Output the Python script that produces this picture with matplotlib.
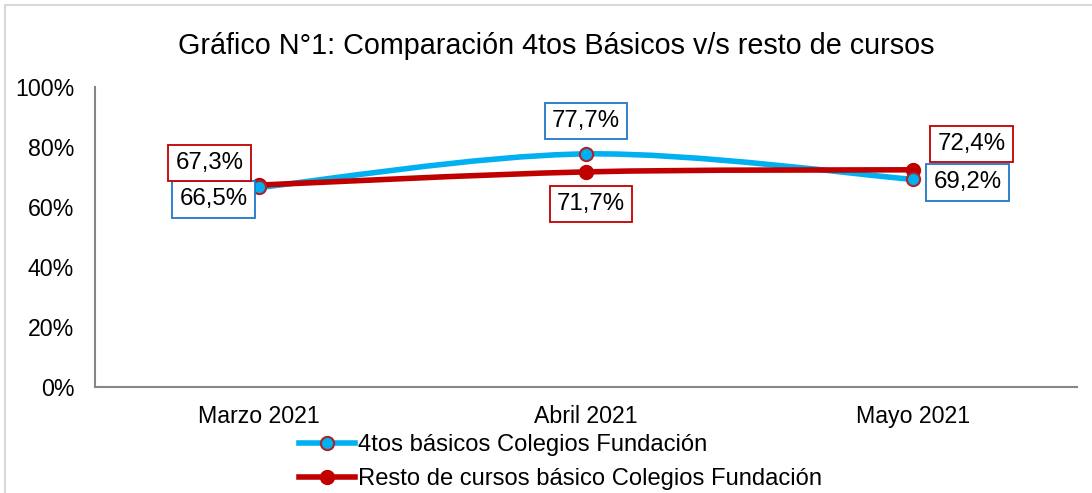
import matplotlib
matplotlib.use("Agg")
import matplotlib.pyplot as plt
from matplotlib.path import Path
from matplotlib.patches import PathPatch, Rectangle
from matplotlib.lines import Line2D
import numpy as np

plt.rcParams['font.family'] = ['Liberation Sans', 'DejaVu Sans']

categories = ["Marzo 2021", "Abril 2021", "Mayo 2021"]
cuartos = [0.665, 0.777, 0.692]
resto = [0.673, 0.717, 0.724]
labels_cuartos = ["66,5%", "77,7%", "69,2%"]
labels_resto = ["67,3%", "71,7%", "72,4%"]
yticks = [0, 0.2, 0.4, 0.6, 0.8, 1.0]
ytick_labels = ["0%", "20%", "40%", "60%", "80%", "100%"]
title = "Gráfico N°1: Comparación 4tos Básicos v/s resto de cursos"
series_names = ["4tos básicos Colegios Fundación", "Resto de cursos básico Colegios Fundación"]

BLUE = "#00B0F0"
RED = "#C00000"
EDGE = "#A8262B"
GRAY = "#868686"

W, H = 1092, 493
fig = plt.figure(figsize=(W / 100, H / 100), dpi=100)
ax = fig.add_axes([95 / W, 1 - 387 / H, (1077 - 95) / W, (387 - 87) / H])

x = np.arange(len(categories)) + 0.5


def smooth_path(xs, ys):
    pts = list(zip(xs, ys))
    verts = [pts[0]]
    codes = [Path.MOVETO]
    n = len(pts)
    for i in range(n - 1):
        p0 = pts[i - 1] if i > 0 else pts[i]
        p1 = pts[i]
        p2 = pts[i + 1]
        p3 = pts[i + 2] if i + 2 < n else pts[i + 1]
        c1 = (p1[0] + (p2[0] - p0[0]) / 6, p1[1] + (p2[1] - p0[1]) / 6)
        c2 = (p2[0] - (p3[0] - p1[0]) / 6, p2[1] - (p3[1] - p1[1]) / 6)
        verts += [c1, c2, p2]
        codes += [Path.CURVE4] * 3
    return Path(verts, codes)


for vals, col in [(cuartos, BLUE), (resto, RED)]:
    patch = PathPatch(smooth_path(x, vals), facecolor="none", edgecolor=col,
                      linewidth=4, capstyle="round", zorder=3)
    ax.add_patch(patch)

ax.plot(x, cuartos, linestyle="none", marker="o", markersize=9.5,
        markerfacecolor=BLUE, markeredgecolor=EDGE, markeredgewidth=1.5, zorder=5)
ax.plot(x, resto, linestyle="none", marker="o", markersize=10,
        markerfacecolor=RED, markeredgecolor=RED, zorder=4)

ax.set_xlim(0, 3)
ax.set_ylim(0, 1)
ax.set_yticks(yticks)
ax.set_yticklabels(ytick_labels)
ax.set_xticks(x)
ax.set_xticklabels(categories)
ax.tick_params(axis="both", length=0, labelsize=16.7, colors="black")
ax.tick_params(axis="y", pad=15)
ax.tick_params(axis="x", pad=13)
for s in ["top", "right"]:
    ax.spines[s].set_visible(False)
for s in ["left", "bottom"]:
    ax.spines[s].set_color(GRAY)
    ax.spines[s].set_linewidth(1.5)

offs_c = [(-45, -12), (0, 33), (54, -3)]
offs_r = [(-49, 22), (5, -32), (58, 26)]
for xi, v, lab, o in zip(x, cuartos, labels_cuartos, offs_c):
    ax.annotate(lab, (xi, v), xytext=o, textcoords="offset pixels",
                ha="center", va="center", fontsize=17.3, zorder=6,
                bbox=dict(boxstyle="square,pad=0.3", fc="white", ec="#1F78C8", lw=1.3))
for xi, v, lab, o in zip(x, resto, labels_resto, offs_r):
    ax.annotate(lab, (xi, v), xytext=o, textcoords="offset pixels",
                ha="center", va="center", fontsize=17.3, zorder=6,
                bbox=dict(boxstyle="square,pad=0.3", fc="white", ec=RED, lw=1.3))

fig.text(556 / W, 1 - 46 / H, title, ha="center", va="center", fontsize=20.7)

handles = [
    Line2D([], [], color=BLUE, lw=4, marker="o", markersize=9.5,
           markerfacecolor=BLUE, markeredgecolor=EDGE, markeredgewidth=1.5),
    Line2D([], [], color=RED, lw=4, marker="o", markersize=10,
           markerfacecolor=RED, markeredgecolor=RED),
]
fig.legend(handles, series_names, loc="upper left",
           bbox_to_anchor=(299 / W, 1 - 434 / H), frameon=False, fontsize=17.1,
           handlelength=2.36, handletextpad=0.13, labelspacing=0.5,
           borderpad=0, borderaxespad=0)

# outer light border (chart frame, cropped at right/bottom)
fig.patches.append(Rectangle((5 / W, -0.1), 1.2, 1 - 5 / H + 0.1, transform=fig.transFigure,
                             fill=False, edgecolor="#D9D9D9", linewidth=1.5))

fig.savefig("out.png", dpi=100)
